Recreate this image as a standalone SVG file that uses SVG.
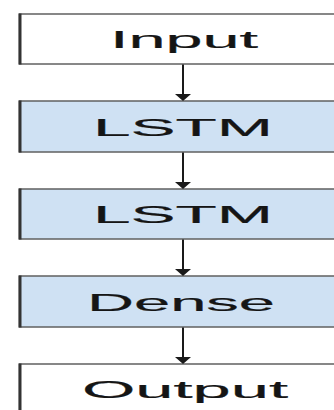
<svg xmlns="http://www.w3.org/2000/svg" width="334" height="410" viewBox="0 0 334 410">
<style>
.box{stroke:#606060;stroke-width:1.5}
.plain{fill:#ffffff}
.blue{fill:#cfe1f3}
.edge{stroke:#333333;stroke-width:3}
.lbl{font-family:"Liberation Sans",Arial,sans-serif;font-size:23px;fill:#151515;stroke:#151515;stroke-width:0.2}
.conn{stroke:#1a1a1a;stroke-width:2;fill:none}
</style>
<defs>
<marker id="ah" markerUnits="userSpaceOnUse" markerWidth="8" markerHeight="18" viewBox="0 0 8 18" refX="0" refY="9" orient="auto">
<path d="M0,1 L7,9 L0,17 z" fill="#1a1a1a"/>
</marker>
</defs>
<rect width="334" height="410" fill="#ffffff"/>
<g id="input">
<rect class="box plain" x="19.5" y="14" width="330" height="50"/>
<line class="edge" x1="20" y1="13.5" x2="20" y2="64.5"/>
<text class="lbl" x="110" y="48" textLength="148" lengthAdjust="spacingAndGlyphs">Input</text>
</g>
<g id="lstm1">
<rect class="box blue" x="19.5" y="101" width="330" height="51"/>
<line class="edge" x1="20" y1="100.5" x2="20" y2="152.5"/>
<text class="lbl" x="93" y="135.5" textLength="180" lengthAdjust="spacingAndGlyphs">LSTM</text>
</g>
<g id="lstm2">
<rect class="box blue" x="19.5" y="189" width="330" height="50"/>
<line class="edge" x1="20" y1="188.5" x2="20" y2="239.5"/>
<text class="lbl" x="93" y="223" textLength="180" lengthAdjust="spacingAndGlyphs">LSTM</text>
</g>
<g id="dense">
<rect class="box blue" x="19.5" y="276" width="330" height="51"/>
<line class="edge" x1="20" y1="275.5" x2="20" y2="327.5"/>
<text class="lbl" x="87" y="310.5" textLength="188" lengthAdjust="spacingAndGlyphs">Dense</text>
</g>
<g id="output">
<rect class="box plain" x="19.5" y="364" width="330" height="50"/>
<line class="edge" x1="20" y1="363.5" x2="20" y2="414"/>
<text class="lbl" x="82" y="398" textLength="206" lengthAdjust="spacingAndGlyphs">Output</text>
</g>
<g id="connectors">
<line class="conn" x1="183" y1="64.5" x2="183" y2="94" marker-end="url(#ah)"/>
<line class="conn" x1="183" y1="152.5" x2="183" y2="182" marker-end="url(#ah)"/>
<line class="conn" x1="183" y1="239.5" x2="183" y2="269" marker-end="url(#ah)"/>
<line class="conn" x1="183" y1="327.5" x2="183" y2="357" marker-end="url(#ah)"/>
</g>
</svg>
